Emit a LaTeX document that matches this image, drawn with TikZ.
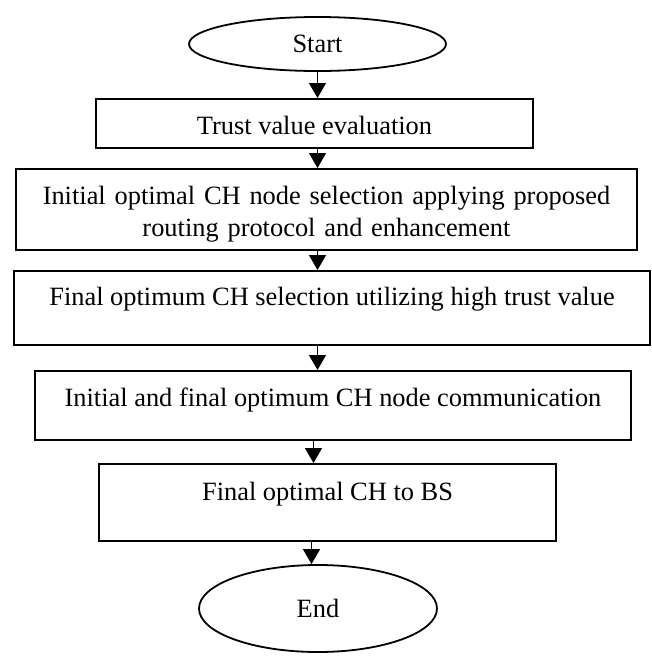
\documentclass[tikz,border=0pt]{standalone}
\usepackage{fontspec}
\setmainfont{Liberation Serif}
\usetikzlibrary{shapes.geometric,arrows.meta}

\begin{document}
\begin{tikzpicture}[
    x=0.5pt, y=-0.5pt,
    font=\fontsize{13.2}{15.8}\selectfont,
    term/.style={draw,ellipse,line width=0.9pt,inner sep=0pt},
    stepbox/.style={draw,rectangle,line width=0.9pt,inner sep=0pt,anchor=north,align=center},
    arr/.style={line width=0.7pt,-{Triangle[width=8.5pt,length=7.5pt]}}
    ]
    \useasboundingbox (0,0) rectangle (652,665);

    \node[term, minimum width=128.5pt, minimum height=27pt] (start) at (317.5,44) {Start};
    \node[stepbox, minimum width=218.5pt, text height=18pt, text depth=6.5pt] (trust) at (314.5,98) {Trust value evaluation};
    \node[stepbox, minimum width=310.5pt, text width=300pt, text height=17.75pt, text depth=22.75pt] (select) at (326.5,168)
        {Initial optimal CH node selection applying proposed\\routing protocol and enhancement};
    \node[stepbox, minimum width=318pt, text height=17.5pt, text depth=19.5pt] (final) at (332,270) {Final optimum CH selection utilizing high trust value};
    \node[stepbox, minimum width=298pt, text height=17.75pt, text depth=16.75pt] (comm) at (333,370) {Initial and final optimum CH node communication};
    \node[stepbox, minimum width=228.5pt, text height=18.25pt, text depth=20.25pt] (bs) at (327.5,463) {Final optimal CH to BS};
    \node[term, minimum width=119pt, minimum height=43.5pt] (end) at (318,608.5) {End};

    \path (start.south) edge[arr] (start.south |- trust.north)
    (start.south |- trust.south) edge[arr] (start.south |- select.north)
    (start.south |- select.south) edge[arr] (start.south |- final.north)
    (start.south |- final.south) edge[arr] (start.south |- comm.north)
    ([xshift=-2pt]start.south |- comm.south) edge[arr] ([xshift=-2pt]start.south |- bs.north)
    ([xshift=-3pt]start.south |- bs.south) edge[arr] ([xshift=-3pt]start.south |- end.north)
    ;

\end{tikzpicture}
\end{document}
